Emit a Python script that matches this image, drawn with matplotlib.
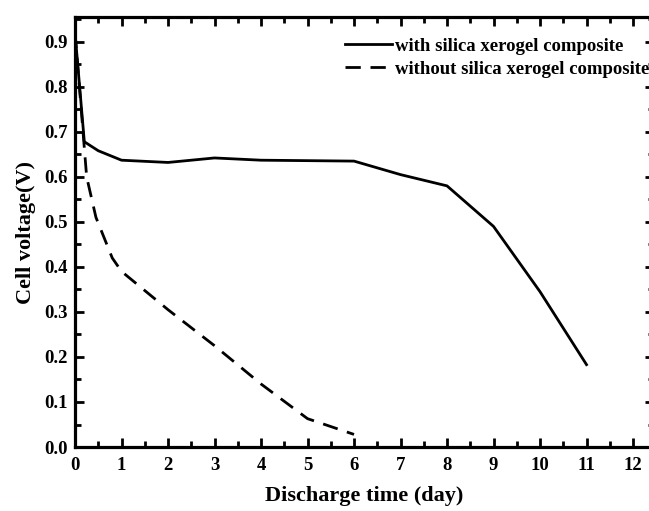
import numpy as np
import matplotlib.pyplot as plt
from matplotlib.ticker import MultipleLocator

# dados
dias_com = [0, 0.2, 0.5, 1, 2, 3, 4, 5, 6, 7, 8, 9, 10, 11]
tensao_com = [0.92, 0.678, 0.658, 0.637, 0.632, 0.642, 0.637, 0.636, 0.635, 0.605, 0.58, 0.49, 0.345, 0.183]

dias_sem = [0, 0.25, 0.45, 0.8, 1, 2, 3, 4, 5, 6]
tensao_sem = [0.92, 0.6, 0.51, 0.42, 0.39, 0.305, 0.225, 0.14, 0.063, 0.028]

plt.rcParams['font.family'] = ['Liberation Serif', 'DejaVu Serif']
plt.rcParams['font.weight'] = 'bold'

fig = plt.figure(figsize=(6.49, 5.11), dpi=100)
# eixo direito fica logo fora da imagem, como no original recortado
ax = fig.add_axes([0.1156, 0.1252, 0.892, 0.8415])

ax.plot(dias_com, tensao_com, color='black', linewidth=2.0, label='with silica xerogel composite')
ax.plot(dias_sem, tensao_sem, color='black', linewidth=2.0, dashes=(5.5, 3.5),
        label='without silica xerogel composite')

ax.set_xlim(0, 12.45)
ax.set_ylim(0, 0.955)
ax.xaxis.set_major_locator(MultipleLocator(1))
ax.xaxis.set_minor_locator(MultipleLocator(0.5))
ax.yaxis.set_minor_locator(MultipleLocator(0.05))
ax.set_yticks(np.arange(0, 0.95, 0.1))
ax.set_yticklabels(['%.1f' % v for v in np.arange(0, 0.95, 0.1)])

ax.tick_params(which='both', direction='in', top=True, right=True, width=2.0, labelsize=13.5)
ax.tick_params(which='major', length=6.5, pad=7)
ax.tick_params(which='minor', length=4)
ax.tick_params(axis='y', which='major', pad=5)
for s in ax.spines.values():
    s.set_linewidth(2.3)

ax.set_xlabel('Discharge time (day)', fontsize=16, fontweight='bold', labelpad=9)
ax.set_ylabel('Cell voltage(V)', fontsize=16, fontweight='bold', labelpad=6)

ax.legend(loc='upper right', bbox_to_anchor=(1.014, 0.982), frameon=False, fontsize=13.5,
          handlelength=2.5, handletextpad=0.15, labelspacing=0.3, borderaxespad=0.3)

fig.savefig('out.png', dpi=100)
